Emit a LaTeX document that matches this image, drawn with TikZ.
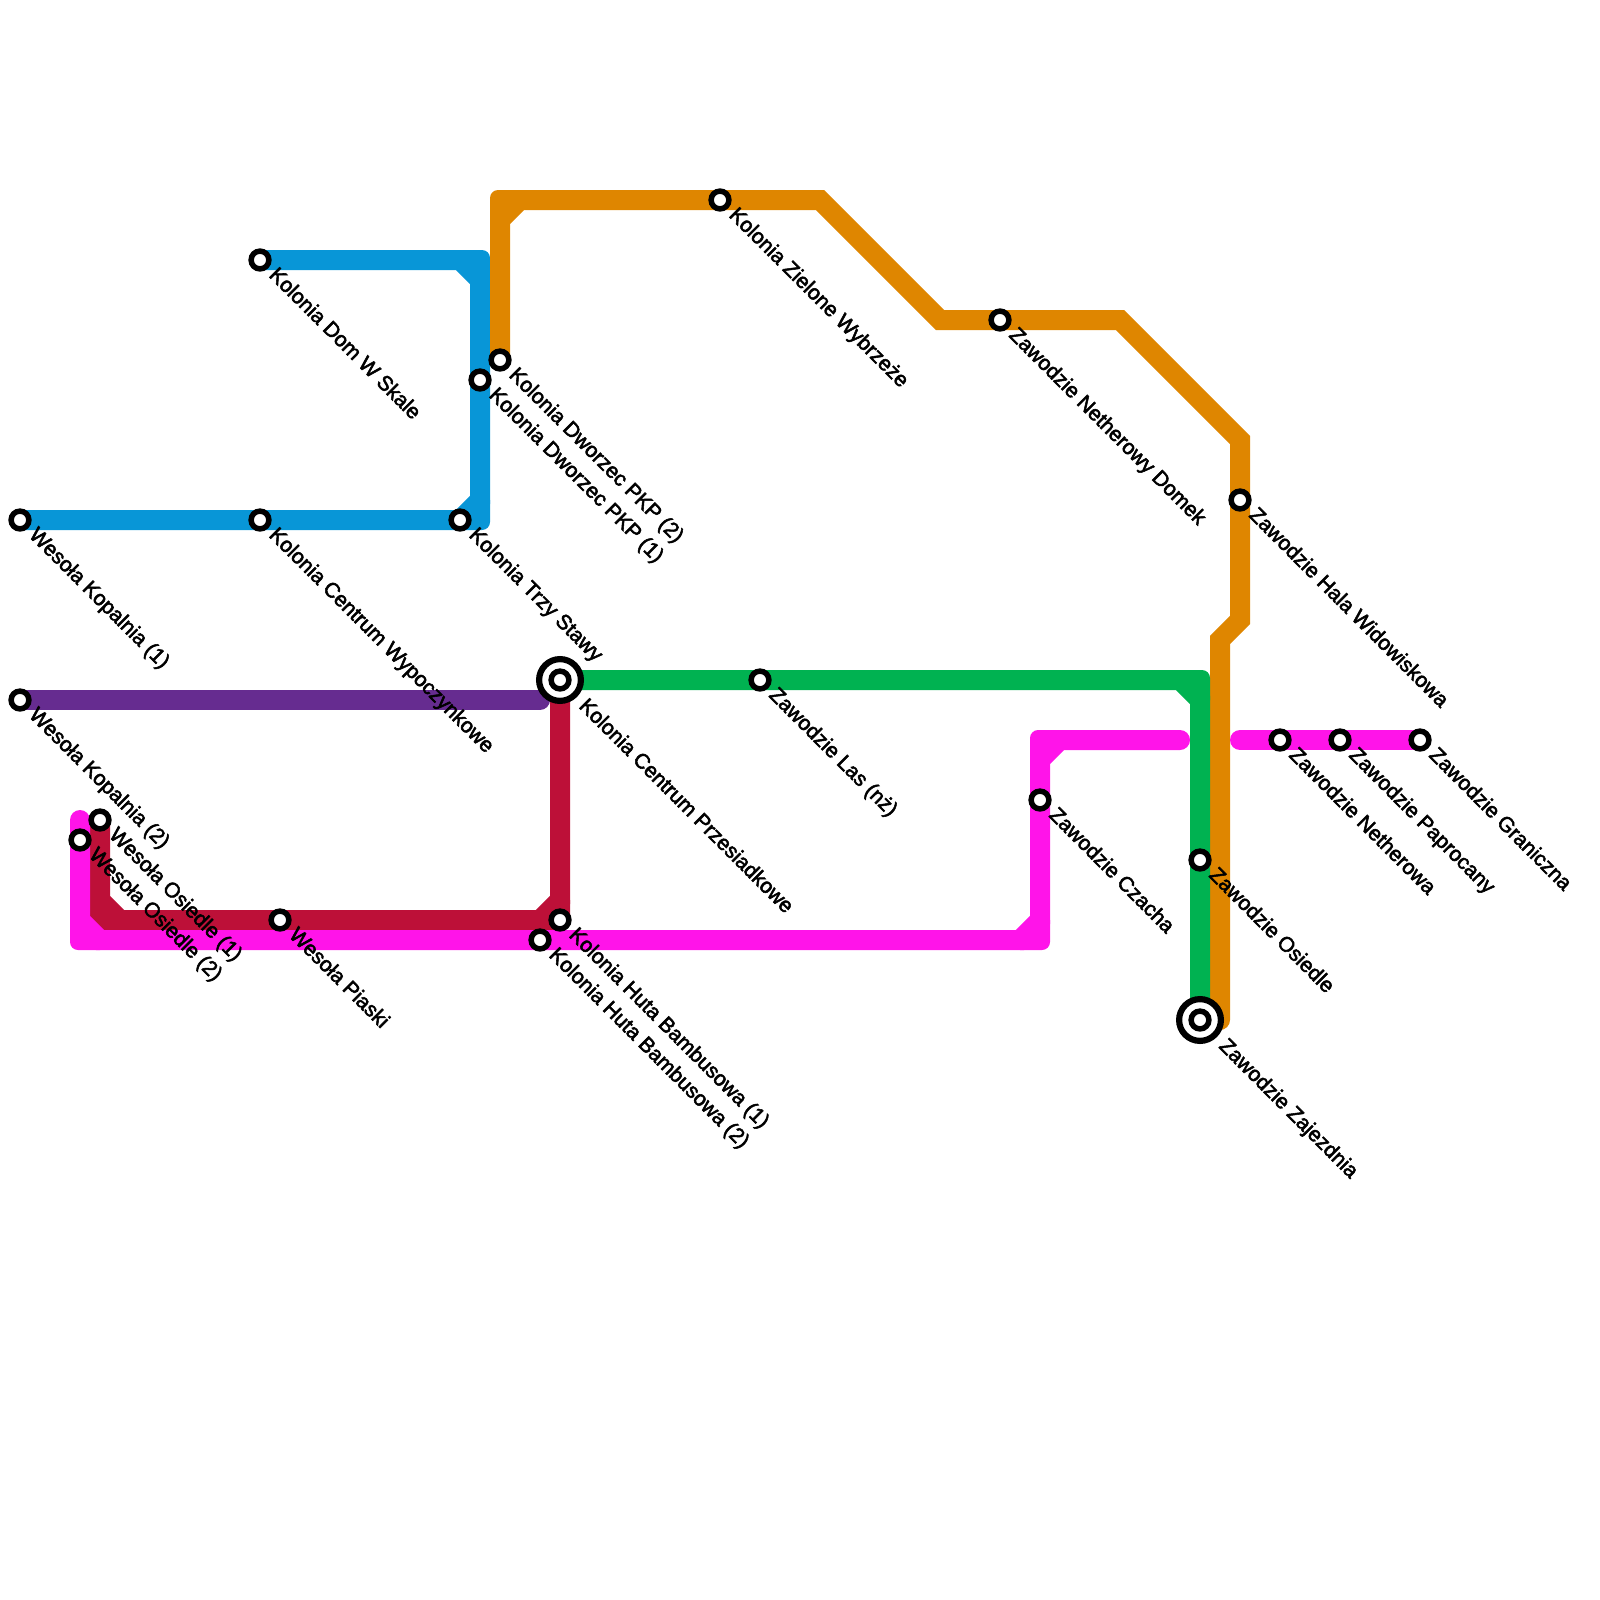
\documentclass[tikz,border=0pt]{standalone}
\usepackage{fontspec}
\setmainfont{Liberation Sans}
\newfontfamily\labf[FakeBold=2.5]{Liberation Sans}
\definecolor{lblue}{HTML}{0896D7}
\definecolor{lorange}{HTML}{DF8600}
\definecolor{lgreen}{HTML}{00B251}
\definecolor{lpurple}{HTML}{662C90}
\definecolor{lred}{HTML}{BD1038}
\definecolor{lmag}{HTML}{FF14E9}
\pgfdeclarelayer{lines}
\pgfsetlayers{lines,main}
\newcommand{\bendp}[4]{\fill[#4,shift={(#1,#2)},rotate=#3] (-20,-10) -- (2,-10) .. controls (6.4,-10) and (10,-6.4) .. (10,-2) -- (10,20) -- (-10,20) -- (-10,10) -- (-20,10) -- cycle;}
\tikzset{
 x=1pt,y=-1pt,
 metro/.style={line width=20pt,line join=miter,line cap=round},
 stn/.style={circle,draw=black,fill=white,line width=5.5pt,minimum size=17.8pt,inner sep=0pt,outer sep=0pt},
 hub/.style={circle,draw=black,fill=white,line width=6.2pt,minimum size=41.8pt,inner sep=0pt,outer sep=0pt},
 lab/.style={rotate=-45,anchor=base west,inner sep=0pt,font=\labf\fontsize{21}{24}\selectfont,text=black},
}
\newcommand{\st}[6]{\node[stn] (#1) at (#2,#3) {}; \node[lab] (#1-t) at (#2+#4,#3+#5) {#6};}
\begin{document}
\begin{tikzpicture}
\useasboundingbox (0,0) rectangle (1600,1600);
\st{wk1}{20}{520}{8}{16}{Wesoła Kopalnia (1)}
\st{wk2}{20}{700}{8}{16}{Wesoła Kopalnia (2)}
\st{kds}{260}{260}{8}{16}{Kolonia Dom W Skale}
\st{kcw}{260}{520}{8}{16}{Kolonia Centrum Wypoczynkowe}
\st{kts}{460}{520}{8}{16}{Kolonia Trzy Stawy}
\st{kd1}{480}{380}{8}{16}{Kolonia Dworzec PKP (1)}
\st{kd2}{500}{360}{8}{16}{Kolonia Dworzec PKP (2)}
\st{kzw}{720}{200}{8}{16}{Kolonia Zielone Wybrzeże}
\st{znd}{1000}{320}{8}{16}{Zawodzie Netherowy Domek}
\st{zhw}{1240}{500}{8}{16}{Zawodzie Hala Widowiskowa}
\node[hub] (kcpo) at (560,680) {};
\st{kcp}{560}{680}{18}{27}{Kolonia Centrum Przesiadkowe}
\st{zln}{760}{680}{8}{16}{Zawodzie Las (nż)}
\st{zcz}{1040}{800}{8}{16}{Zawodzie Czacha}
\st{zos}{1200}{860}{8}{16}{Zawodzie Osiedle}
\node[hub] (zzao) at (1200,1020) {};
\st{zza}{1200}{1020}{18}{27}{Zawodzie Zajezdnia}
\st{zne}{1280}{740}{8}{16}{Zawodzie Netherowa}
\st{zpa}{1340}{740}{8}{16}{Zawodzie Paprocany}
\st{zgr}{1420}{740}{8}{16}{Zawodzie Graniczna}
\st{wo1}{100}{820}{8}{16}{Wesoła Osiedle (1)}
\st{wo2}{80}{840}{8}{16}{Wesoła Osiedle (2)}
\st{wpi}{280}{920}{8}{16}{Wesoła Piaski}
\st{kh1}{560}{920}{8}{16}{Kolonia Huta Bambusowa (1)}
\st{kh2}{540}{940}{8}{16}{Kolonia Huta Bambusowa (2)}
\begin{pgfonlayer}{lines}
\draw[metro,lblue] (kds.center) -- (460,260) -- (480,280) -- (480,500) -- (460,520) -- (wk1.center);
\bendp{480}{260}{0}{lblue}
\bendp{480}{520}{-90}{lblue}
\draw[metro,lorange] (kd2.center) -- (500,220) -- (520,200) -- (820,200) -- (940,320) -- (1120,320) -- (1240,440) -- (1240,620) -- (1220,640) -- (1220,1020);
\bendp{500}{200}{90}{lorange}
\draw[metro,lgreen] (kcp.center) -- (1180,680) -- (1200,700) -- (zza.center);
\bendp{1200}{680}{0}{lgreen}
\draw[metro,lpurple] (wk2.center) -- (540,700);
\draw[metro,lred] (wo1.center) -- (100,900) -- (120,920) -- (540,920) -- (560,900) -- (kcp.center);
\bendp{100}{920}{180}{lred}
\bendp{560}{920}{-90}{lred}
\draw[metro,lmag] (80,820) -- (80,920) -- (100,940) -- (1020,940) -- (1040,920) -- (1040,760) -- (1060,740) -- (1180,740);
\bendp{80}{940}{180}{lmag}
\bendp{1040}{940}{-90}{lmag}
\bendp{1040}{740}{90}{lmag}
\draw[metro,lmag] (1240,740) -- (zgr.center);
\end{pgfonlayer}
\end{tikzpicture}
\end{document}
